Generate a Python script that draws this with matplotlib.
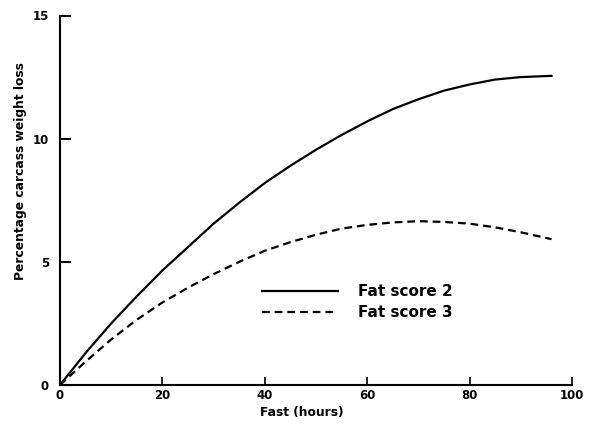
import matplotlib
matplotlib.use("Agg")
import matplotlib.pyplot as plt

hours = [0, 5, 10, 15, 20, 25, 30, 35, 40, 45, 50, 55, 60, 65, 70, 75, 80, 85, 90, 96]
fat_score_2 = [0, 1.3, 2.5, 3.6, 4.65, 5.6, 6.55, 7.4, 8.2, 8.9, 9.55, 10.15, 10.7,
               11.2, 11.6, 11.95, 12.2, 12.4, 12.5, 12.55]
fat_score_3 = [0, 0.95, 1.85, 2.65, 3.35, 3.95, 4.5, 5.0, 5.45, 5.8, 6.1, 6.35, 6.5,
               6.6, 6.65, 6.62, 6.55, 6.4, 6.2, 5.92]
x_ticks = [0, 20, 40, 60, 80, 100]
y_ticks = [0, 5, 10, 15]
labels = ["Fat score 2", "Fat score 3"]

plt.rcParams['font.family'] = ['DejaVu Sans']
fig = plt.figure(figsize=(5.99, 4.26), dpi=100)
W, H = 599, 426
left, right, bottom, top = 60 / W, 572 / W, 1 - 385 / H, 1 - 15.5 / H
ax = fig.add_axes([left, bottom, right - left, top - bottom])

ax.plot(hours, fat_score_2, color='black', lw=1.6, label=labels[0])
ax.plot(hours, fat_score_3, color='black', lw=1.6, linestyle=(0, (3.5, 2.2)), label=labels[1])

ax.set_xlim(0, 100)
ax.set_ylim(0, 15)
ax.set_xticks(x_ticks)
ax.set_yticks(y_ticks)
for s in ['top', 'right']:
    ax.spines[s].set_visible(False)
for s in ['left', 'bottom']:
    ax.spines[s].set_linewidth(1.5)
ax.tick_params(axis='y', direction='in', length=8, width=1.5, pad=8, labelsize=8.5)
ax.tick_params(axis='x', direction='in', length=6, width=1.2, pad=3, labelsize=8.5)
for lab in ax.get_xticklabels() + ax.get_yticklabels():
    lab.set_fontweight('bold')

ax.set_xlabel("Fast (hours)", fontsize=8.8, fontweight='bold')
ax.xaxis.set_label_coords(0.473, -0.057)
ax.set_ylabel("Percentage carcass weight loss", fontsize=8.8, fontweight='bold')
ax.yaxis.set_label_coords(-0.064, 0.579)

leg = ax.legend(loc='upper left', bbox_to_anchor=(262 / W, 1 - 284 / H),
                bbox_transform=fig.transFigure, frameon=False,
                handlelength=5.0, handletextpad=1.3, labelspacing=0.4,
                borderpad=0, borderaxespad=0,
                prop={'size': 11, 'weight': 'bold'})

fig.savefig("out.png", dpi=100)
